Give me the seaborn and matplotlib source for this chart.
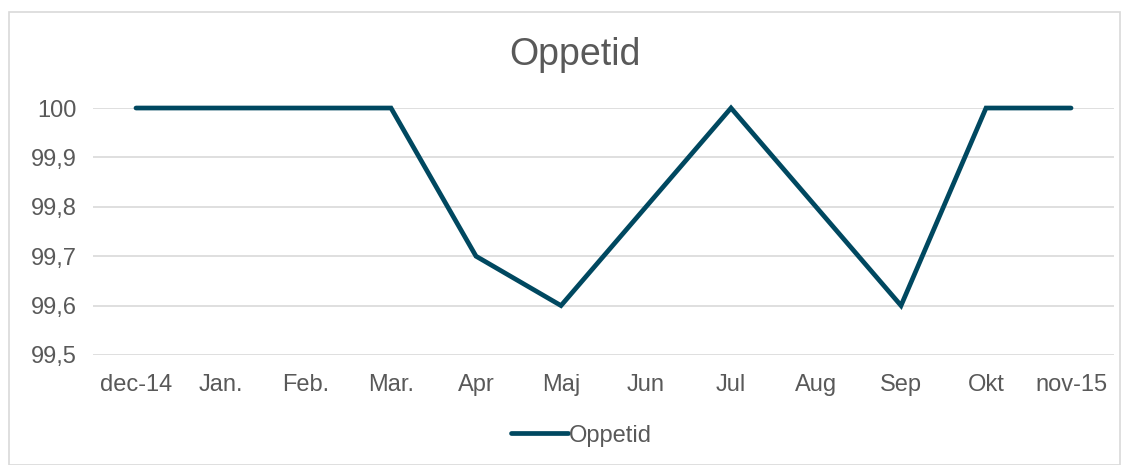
import matplotlib
matplotlib.use("Agg")
import matplotlib.pyplot as plt
import pandas as pd
import seaborn as sns
from matplotlib.patches import Rectangle

# data
months = ["dec-14", "Jan.", "Feb.", "Mar.", "Apr", "Maj", "Jun", "Jul", "Aug", "Sep", "Okt", "nov-15"]
oppetid = [100, 100, 100, 100, 99.7, 99.6, 99.8, 100, 99.8, 99.6, 100, 100]
yticks = [99.5, 99.6, 99.7, 99.8, 99.9, 100]
ytick_labels = ["99,5", "99,6", "99,7", "99,8", "99,9", "100"]

df = pd.DataFrame({"month": months, "Oppetid": oppetid, "pos": range(len(months))})

sns.set_style("white")
plt.rcParams["font.family"] = ["Liberation Sans", "DejaVu Sans"]
text_color = "#595959"
line_color = "#004860"

fig = plt.figure(figsize=(11.29, 4.65), dpi=100)
ax = fig.add_axes([0.0828, 0.2366, 0.9035, 0.5311])

sns.lineplot(data=df, x="pos", y="Oppetid", ax=ax, color=line_color, linewidth=3.4,
             label="Oppetid", clip_on=False, solid_joinstyle="miter")

ax.set_xlim(-0.5, len(months) - 0.5)
ax.set_ylim(99.5, 100)
ax.set_xticks(range(len(months)))
ax.set_xticklabels(months)
ax.set_yticks(yticks)
ax.set_yticklabels(ytick_labels)
ax.tick_params(axis="both", length=0, labelsize=17, labelcolor=text_color)
ax.tick_params(axis="y", pad=12)
ax.tick_params(axis="x", pad=14)
ax.set_xlabel("")
ax.set_ylabel("")
ax.grid(axis="y", color="#d9d9d9", linewidth=1.2)
ax.set_axisbelow(True)
for s in ax.spines.values():
    s.set_visible(False)

fig.text(0.509, 0.882, "Oppetid", ha="center", va="center", fontsize=27, color=text_color)

ax.legend(loc="center", bbox_to_anchor=(0.515, 0.063), bbox_transform=fig.transFigure,
          frameon=False, fontsize=17, handlelength=2.4, handletextpad=0.05,
          labelcolor=text_color)

# outer chart border
fig.patches.append(Rectangle((0.008, 0.0), 0.984, 0.974, transform=fig.transFigure,
                             fill=False, edgecolor="#d9d9d9", linewidth=1.2))

fig.savefig("out.png", dpi=100)
